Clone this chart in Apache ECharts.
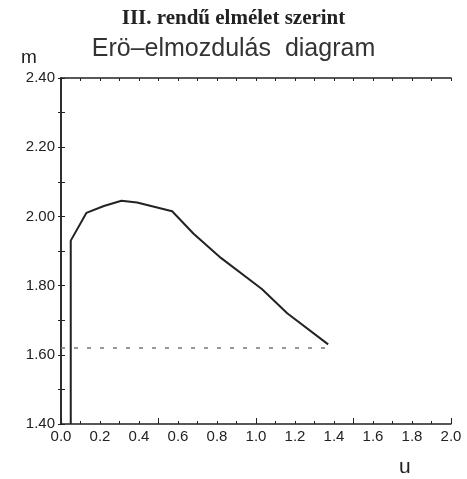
<!DOCTYPE html>
<html>
<head>
<meta charset="utf-8">
<script src="https://cdn.jsdelivr.net/npm/echarts@6/dist/echarts.min.js"></script>
<style>
  html, body { margin: 0; padding: 0; background: #fff; }
  #chart { width: 467px; height: 479px; }
</style>
</head>
<body>
<div id="chart"></div>
<script>
  // gorbe pontjai (u, m)
  var curveU = [0.05, 0.05, 0.13, 0.22, 0.31, 0.39, 0.57, 0.68, 0.82, 1.03, 1.16, 1.37];
  var curveM = [1.40, 1.93, 2.01, 2.03, 2.045, 2.04, 2.015, 1.95, 1.88, 1.79, 1.72, 1.63];
  // szaggatott vonal
  var dashU = [0.0, 1.37];
  var dashM = [1.62, 1.62];

  var yTicks = ['1.40', '1.60', '1.80', '2.00', '2.20', '2.40'];
  var xTicks = ['0.0', '0.2', '0.4', '0.6', '0.8', '1.0', '1.2', '1.4', '1.6', '1.8', '2.0'];

  function pairs(a, b) {
    var out = [];
    for (var i = 0; i < a.length; i++) out.push([a[i], b[i]]);
    return out;
  }

  var ink = '#222';
  var chart = echarts.init(document.getElementById('chart'));

  var option = {
    animation: false,
    backgroundColor: '#fff',
    title: [
      {
        text: 'III. rendű elmélet szerint',
        left: 'center', top: 3,
        textStyle: { fontFamily: 'Liberation Serif', fontWeight: 'bold', fontSize: 21, color: ink }
      },
      {
        text: 'Erö–elmozdulás  diagram',
        left: 'center', top: 32,
        textStyle: { fontFamily: 'Liberation Sans', fontWeight: 'normal', fontSize: 25, color: '#333' }
      },
      {
        text: 'm',
        left: 16, top: 43,
        textStyle: { fontFamily: 'Liberation Sans', fontWeight: 'normal', fontSize: 19, color: ink }
      },
      {
        text: 'u',
        left: 394, top: 452,
        textStyle: { fontFamily: 'Liberation Sans', fontWeight: 'normal', fontSize: 21, color: ink }
      }
    ],
    grid: { left: 61, right: 16, top: 78, bottom: 55 },
    xAxis: [
      {
        type: 'value', min: 0, max: 2.0, interval: 0.1,
        axisLine: { onZero: false, lineStyle: { color: ink, width: 1.5 } },
        axisTick: { inside: true, length: 3, lineStyle: { color: ink } },
        splitLine: { show: false },
        axisLabel: {
          margin: 5, fontSize: 15, fontFamily: 'Liberation Sans', color: ink,
          formatter: function (v) {
            var s = v.toFixed(1);
            return xTicks.indexOf(s) >= 0 ? s : '';
          }
        }
      },
      {
        // hosszabb jelek 0.5-enként
        type: 'value', min: 0, max: 2.0, interval: 0.5, position: 'bottom',
        axisLine: { show: false },
        axisTick: { inside: true, length: 6, lineStyle: { color: ink } },
        axisLabel: { show: false },
        splitLine: { show: false }
      },
      {
        type: 'value', min: 0, max: 2.0, interval: 0.1, position: 'top',
        axisLine: { lineStyle: { color: ink, width: 1.5 } },
        axisTick: { inside: true, length: 3, lineStyle: { color: ink } },
        axisLabel: { show: false },
        splitLine: { show: false }
      }
    ],
    yAxis: [
      {
        type: 'value', min: 1.4, max: 2.4, interval: 0.1,
        axisLine: { onZero: false, lineStyle: { color: ink, width: 1.5 } },
        axisTick: { inside: true, length: 4, lineStyle: { color: ink } },
        splitLine: { show: false },
        axisLabel: {
          margin: 6, fontSize: 15, fontFamily: 'Liberation Sans', color: ink,
          formatter: function (v) {
            var s = v.toFixed(2);
            return yTicks.indexOf(s) >= 0 ? s : '';
          }
        }
      },
      {
        type: 'value', min: 1.4, max: 2.4, interval: 0.1, position: 'right',
        axisLine: { lineStyle: { color: ink, width: 1.5 } },
        axisTick: { inside: true, length: 3, lineStyle: { color: ink } },
        axisLabel: { show: false },
        splitLine: { show: false }
      }
    ],
    series: [
      {
        type: 'line',
        data: pairs(curveU, curveM),
        symbol: 'none',
        lineStyle: { color: ink, width: 2 },
        z: 3
      },
      {
        type: 'line',
        data: pairs(dashU, dashM),
        symbol: 'none',
        lineStyle: { color: '#777', width: 1.5, type: [4, 9] },
        z: 2
      }
    ]
  };

  chart.setOption(option);
</script>
</body>
</html>
